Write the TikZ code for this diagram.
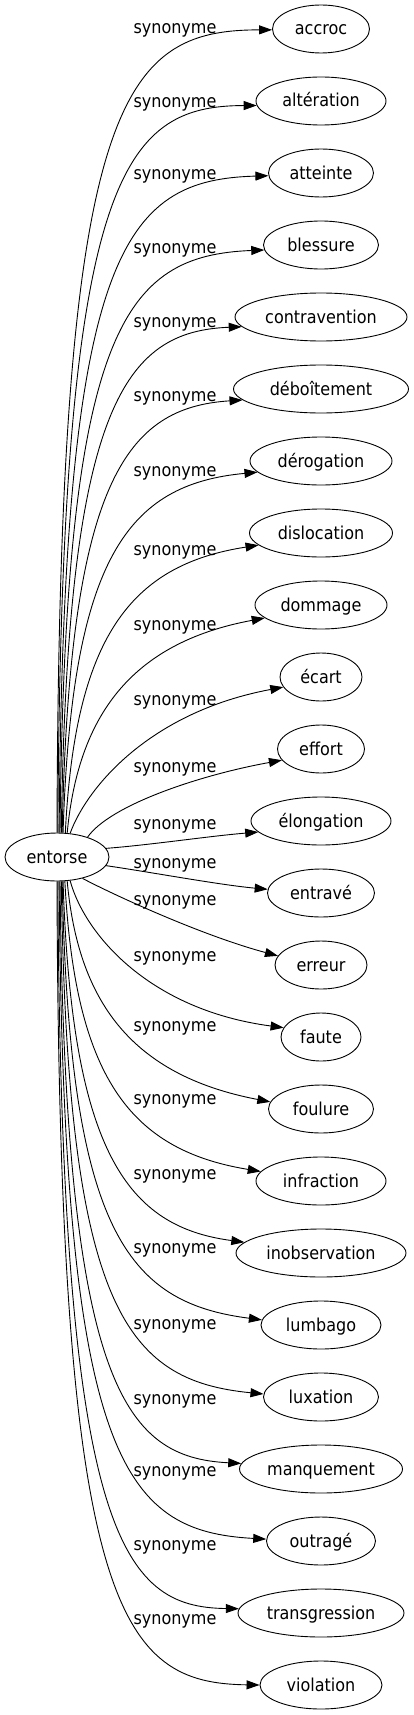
\documentclass[tikz,border=0pt]{standalone}
\usepackage{fontspec}
\setmainfont{DejaVu Sans Condensed}
\usetikzlibrary{arrows.meta,shapes.geometric}
\begin{document}
\begin{tikzpicture}[x=1pt,y=-1pt,
  every node/.style={font=\fontsize{17.8pt}{20pt}\selectfont},
  tgt/.style={draw, ellipse, line width=0.9pt, minimum height=48pt, inner xsep=0pt, inner ysep=0pt, text height=16pt, text depth=4pt},
  lbl/.style={inner sep=0pt, anchor=base},
  syn/.style={draw, line width=0.9pt, -{Triangle[length=13pt,width=9pt]}}]
\path[use as bounding box] (0,0) rectangle (413,1715);
\node[tgt, minimum width=104pt] (e) at (57,857) {entorse};
\node[tgt, minimum width=97pt]  (n0)  at (321,29)   {accroc};
\node[tgt, minimum width=130pt] (n1)  at (321,101)  {altération};
\node[tgt, minimum width=105pt] (n2)  at (321,173)  {atteinte};
\node[tgt, minimum width=115pt] (n3)  at (321,245)  {blessure};
\node[tgt, minimum width=172pt] (n4)  at (321,317)  {contravention};
\node[tgt, minimum width=175pt] (n5)  at (321,389)  {déboîtement};
\node[tgt, minimum width=142pt] (n6)  at (321,461)  {dérogation};
\node[tgt, minimum width=143pt] (n7)  at (321,533)  {dislocation};
\node[tgt, minimum width=132pt] (n8)  at (321,605)  {dommage};
\node[tgt, minimum width=82pt]  (n9)  at (321,677)  {écart};
\node[tgt, minimum width=87pt]  (n10) at (321,749)  {effort};
\node[tgt, minimum width=140pt] (n11) at (321,821)  {élongation};
\node[tgt, minimum width=107pt] (n12) at (321,893)  {entravé};
\node[tgt, minimum width=92pt]  (n13) at (321,965)  {erreur};
\node[tgt, minimum width=80pt]  (n14) at (321,1037) {faute};
\node[tgt, minimum width=105pt] (n15) at (321,1109) {foulure};
\node[tgt, minimum width=130pt] (n16) at (321,1181) {infraction};
\node[tgt, minimum width=170pt] (n17) at (321,1253) {inobservation};
\node[tgt, minimum width=120pt] (n18) at (321,1325) {lumbago};
\node[tgt, minimum width=115pt] (n19) at (321,1397) {luxation};
\node[tgt, minimum width=163pt] (n20) at (321,1469) {manquement};
\node[tgt, minimum width=109pt] (n21) at (321,1541) {outragé};
\node[tgt, minimum width=166pt] (n22) at (321,1613) {transgression};
\node[tgt, minimum width=122pt] (n23) at (321,1685) {violation};
% labels
\node[lbl] (l0)  at (175,33.5)   {synonyme};
\node[lbl] (l1)  at (175,107.5)  {synonyme};
\node[lbl] (l2)  at (175,179.5)  {synonyme};
\node[lbl] (l3)  at (175,253.5)  {synonyme};
\node[lbl] (l4)  at (175,327.5)  {synonyme};
\node[lbl] (l5)  at (175,401.5)  {synonyme};
\node[lbl] (l6)  at (175,476.5)  {synonyme};
\node[lbl] (l7)  at (175,555.5)  {synonyme};
\node[lbl] (l8)  at (175,630.5)  {synonyme};
\node[lbl] (l9)  at (175,705.5)  {synonyme};
\node[lbl] (l10) at (175,772.5)  {synonyme};
\node[lbl] (l11) at (175,829.5)  {synonyme};
\node[lbl] (l12) at (175,868.5)  {synonyme};
\node[lbl] (l13) at (175,905.5)  {synonyme};
\node[lbl] (l14) at (175,961.5)  {synonyme};
\node[lbl] (l15) at (175,1031.5) {synonyme};
\node[lbl] (l16) at (175,1104.5) {synonyme};
\node[lbl] (l17) at (175,1179.5) {synonyme};
\node[lbl] (l18) at (175,1253.5) {synonyme};
\node[lbl] (l19) at (175,1329.5) {synonyme};
\node[lbl] (l20) at (175,1404.5) {synonyme};
\node[lbl] (l21) at (175,1476.5) {synonyme};
\node[lbl] (l22) at (175,1550.5) {synonyme};
\node[lbl] (l23) at (175,1624.5) {synonyme};
% edges
\draw[syn] (e.90) .. controls (59,100) and (120,30) .. (n0.181);
\draw[syn] (e.88) .. controls (61.1,176.5) and (121.25,105.9) .. (n1.184);
\draw[syn] (e.85) .. controls (63.25,251) and (122.5,179.75) .. (n2.183);
\draw[syn] (e.83) .. controls (65.4,327.5) and (123.75,255.6) .. (n3.185);
\draw[syn] (e.80) .. controls (67.5,404) and (125,331.5) .. (n4.187);
\draw[syn] (e.78) .. controls (69.6,480.5) and (126.25,407.4) .. (n5.188);
\draw[syn] (e.76) .. controls (71.75,558) and (127.5,484.25) .. (n6.190);
\draw[syn] (e.71) .. controls (74.9,639.5) and (128.75,565.1) .. (n7.191);
\draw[syn] (e.67) .. controls (78,717) and (130,643) .. (n8.193);
\draw[syn] (e.61) .. controls (87,787) and (150,712) .. (n9.195);
\draw[syn] (e.33) .. controls (110,805) and (200,775) .. (n10.196);
\draw[syn] (e.10) .. controls (150,845) and (210,836) .. (n11.190);
\draw[syn] (e.-10) .. controls (150,872) and (220,885) .. (n12.176);
\draw[syn] (e.-40) .. controls (110,893) and (200,935) .. (n13.168);
\draw[syn] (e.-61) .. controls (85,935) and (150,1010) .. (n14.166);
\draw[syn] (e.-67) .. controls (78,1000) and (130,1075) .. (n15.172);
\draw[syn] (e.-72) .. controls (74.9,1075.5) and (128.75,1149.9) .. (n16.171);
\draw[syn] (e.-76) .. controls (71.75,1153) and (127.5,1226.75) .. (n17.172);
\draw[syn] (e.-78) .. controls (69.6,1229.5) and (126.25,1302.6) .. (n18.175);
\draw[syn] (e.-80) .. controls (67.5,1308) and (125,1380.5) .. (n19.177);
\draw[syn] (e.-83) .. controls (65.4,1385.5) and (123.75,1457.4) .. (n20.176);
\draw[syn] (e.-85) .. controls (63.25,1460) and (122.5,1531.25) .. (n21.178);
\draw[syn] (e.-88) .. controls (61.1,1536.5) and (121.25,1607.1) .. (n22.177);
\draw[syn] (e.-90) .. controls (59,1613) and (120,1683) .. (n23.180);
\end{tikzpicture}
\end{document}
